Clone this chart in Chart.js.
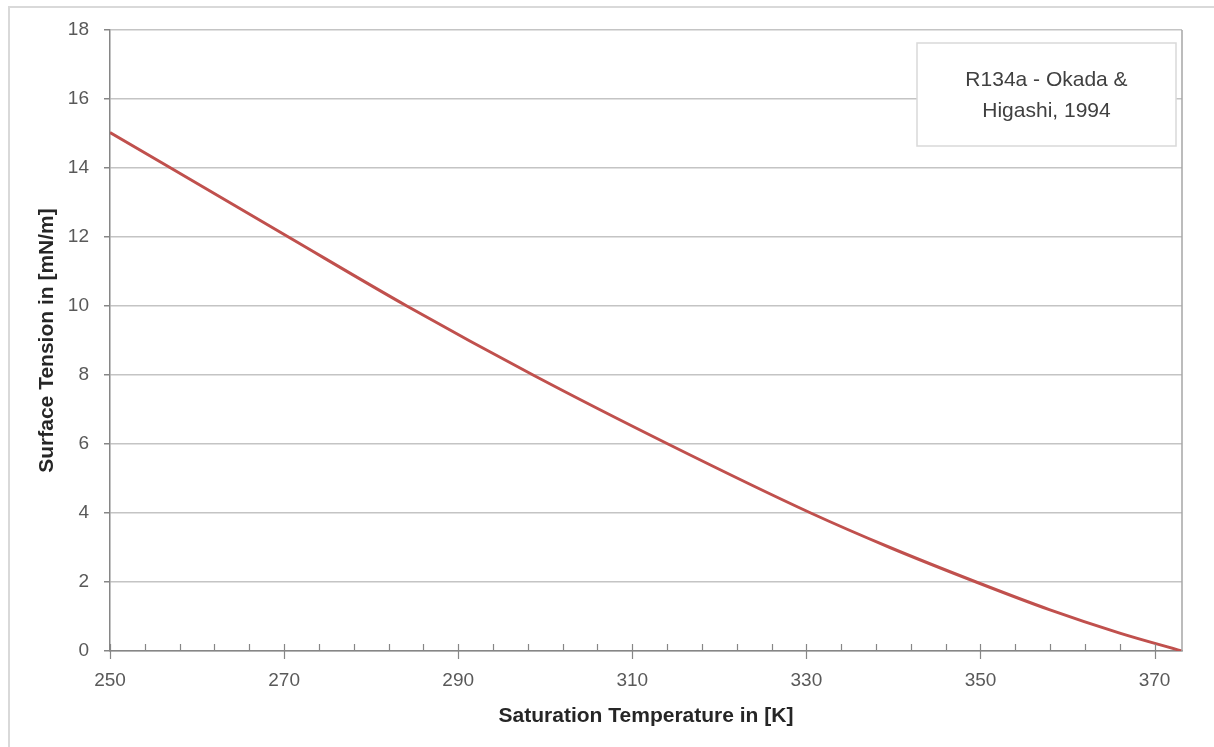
<!DOCTYPE html>
<html>
<head>
<meta charset="utf-8">
<script src="https://cdn.jsdelivr.net/npm/chart.js@4/dist/chart.umd.min.js"></script>
<style>
  html, body { margin: 0; padding: 0; background: #fff; }
  #wrap { width: 1214px; height: 747px; }
</style>
</head>
<body>
<div id="wrap"><canvas id="myChart" width="1214" height="747"></canvas></div>
<script>
// values
const temperatures = [250, 270.5, 284.1, 298.6, 314.1, 330.5, 339.6, 349.5, 357.9, 366, 373.15];
const surfaceTension = [15.03, 12, 10, 8, 6, 4, 3.0, 2, 1.2, 0.52, 0];
const xTickLabels = [250, 270, 290, 310, 330, 350, 370];
const yTickLabels = [0, 2, 4, 6, 8, 10, 12, 14, 16, 18];
const legendLines = ['R134a - Okada &', 'Higashi, 1994'];

const fontFamily = '"Liberation Sans", Arial, sans-serif';
const axisColor = '#868686';
const gridColor = '#c4c4c4';
const textColor = '#595959';

// outer frame, right border of the plot and the text box
const decorations = {
  id: 'decorations',
  beforeDraw(chart) {
    const c = chart.ctx;
    c.save();
    c.fillStyle = '#fff';
    c.fillRect(0, 0, chart.width, chart.height);
    c.strokeStyle = '#d9d9d9';
    c.lineWidth = 2;
    c.strokeRect(9, 7, chart.width + 20, chart.height + 20);
    c.restore();
  },
  afterDraw(chart) {
    const c = chart.ctx;
    const a = chart.chartArea;
    const xs = chart.scales.x;
    c.save();
    // right border
    c.strokeStyle = '#a6a6a6';
    c.lineWidth = 1.5;
    c.beginPath();
    c.moveTo(a.right, a.top);
    c.lineTo(a.right, a.bottom);
    c.stroke();
    // x axis ticks: minor every 4 K inside, major every 20 K crossing
    c.strokeStyle = axisColor;
    c.lineWidth = 1.2;
    for (let t = xTickLabels[0]; t <= xs.max; t += 4) {
      const px = Math.round(xs.getPixelForValue(t)) + 0.5;
      const major = xTickLabels.includes(t);
      c.beginPath();
      c.moveTo(px, a.bottom - 7);
      c.lineTo(px, major ? a.bottom + 8 : a.bottom);
      c.stroke();
    }
    // legend text box
    const bx = 917, by = 43, bw = 259, bh = 103;
    c.fillStyle = '#fff';
    c.fillRect(bx, by, bw, bh);
    c.strokeStyle = '#d9d9d9';
    c.lineWidth = 1.5;
    c.strokeRect(bx, by, bw, bh);
    c.fillStyle = '#404040';
    c.font = '21px ' + fontFamily;
    c.textAlign = 'center';
    c.textBaseline = 'middle';
    legendLines.forEach((line, i) => c.fillText(line, bx + bw / 2, 80 + i * 31));
    c.restore();
  }
};

const ctx = document.getElementById('myChart').getContext('2d');
const myChart = new Chart(ctx, {
  type: 'line',
  data: {
    datasets: [{
      label: 'R134a - Okada & Higashi, 1994',
      data: temperatures.map((t, i) => ({ x: t, y: surfaceTension[i] })),
      borderColor: '#c0504d',
      borderWidth: 3,
      pointRadius: 0,
      cubicInterpolationMode: 'monotone',
      fill: false
    }]
  },
  options: {
    responsive: false,
    animation: false,
    layout: { padding: { left: 0, top: 30, right: 32, bottom: 0 } },
    plugins: { legend: { display: false }, tooltip: { enabled: false } },
    scales: {
      x: {
        type: 'linear',
        min: 250,
        max: 373.15,
        afterFit: s => { s.height = 96; },
        afterBuildTicks: s => { s.ticks = xTickLabels.map(v => ({ value: v })); },
        grid: { drawOnChartArea: false, color: 'rgba(0,0,0,0)', tickLength: 8 },
        border: { color: axisColor, width: 1.5 },
        ticks: {
          color: textColor,
          font: { family: fontFamily, size: 19 },
          padding: 10,
          maxRotation: 0,
          autoSkip: false
        },
        title: {
          display: true,
          text: 'Saturation Temperature in [K]',
          color: '#262626',
          font: { family: fontFamily, size: 21, weight: 'bold' },
          padding: { top: 0, bottom: 18 }
        }
      },
      y: {
        min: 0,
        max: 18,
        afterFit: s => { s.width = 110; },
        afterBuildTicks: s => { s.ticks = yTickLabels.map(v => ({ value: v })); },
        grid: { color: gridColor, lineWidth: 1.5, tickLength: 6, tickColor: axisColor },
        border: { color: axisColor, width: 1.5 },
        ticks: {
          color: textColor,
          font: { family: fontFamily, size: 19 },
          padding: 15
        },
        title: {
          display: true,
          text: 'Surface Tension in [mN/m]',
          color: '#262626',
          font: { family: fontFamily, size: 21, weight: 'bold' },
          padding: { top: 35, bottom: 0 }
        }
      }
    }
  },
  plugins: [decorations]
});
</script>
</body>
</html>
